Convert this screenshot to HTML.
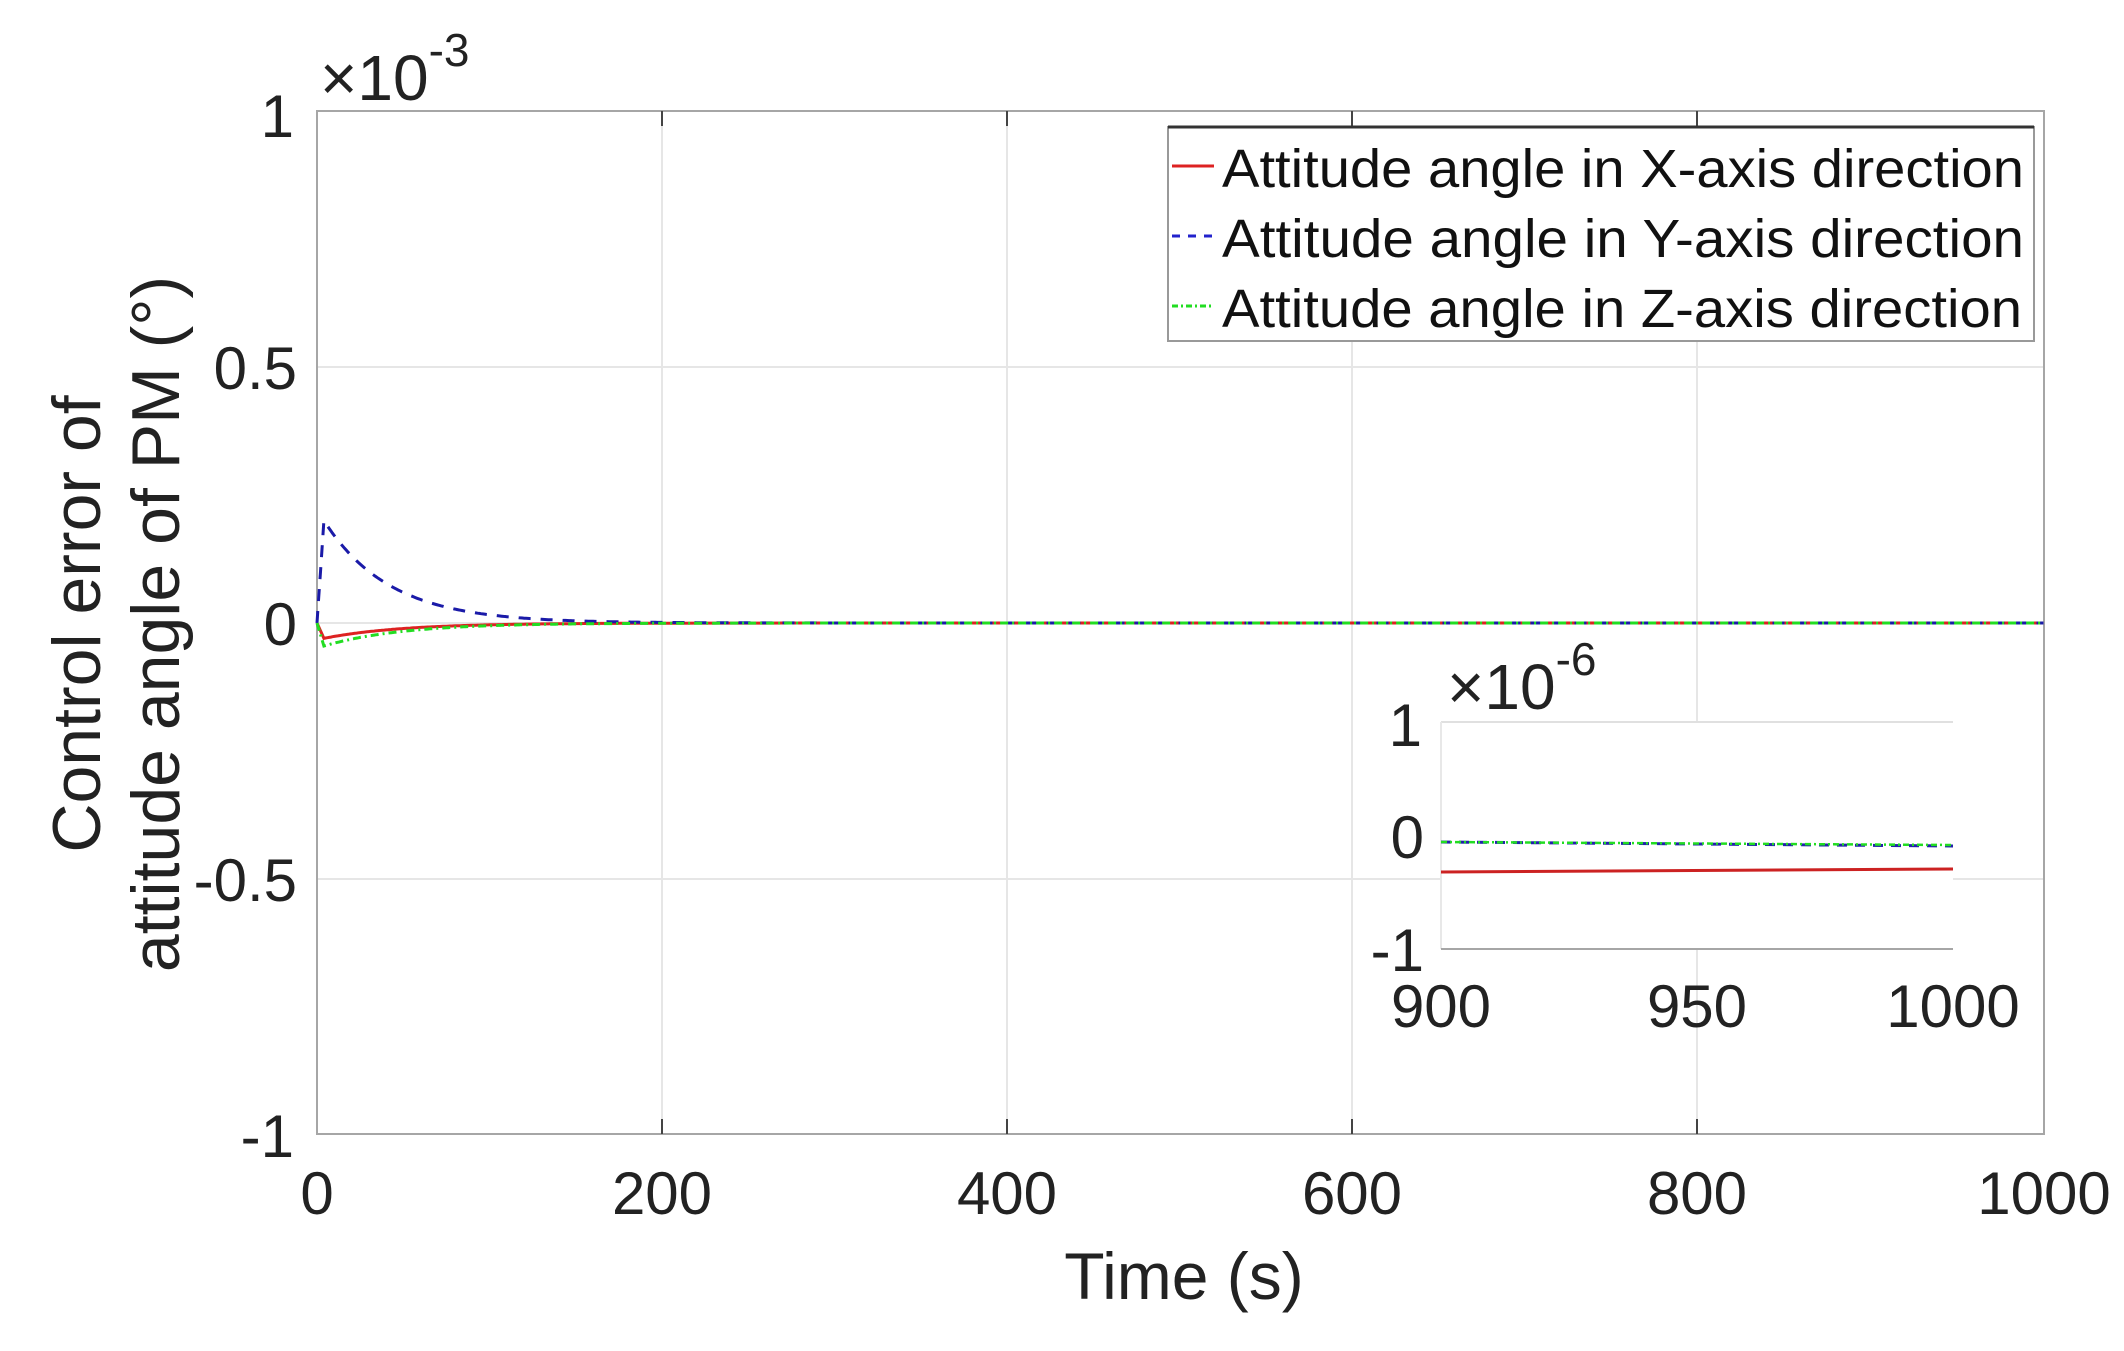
<!DOCTYPE html>
<html><head><meta charset="utf-8"><style>
html,body{margin:0;padding:0;background:#fff;}
svg{display:block;font-family:"Liberation Sans",Arial,sans-serif;}
</style></head><body>
<svg id="s" width="2124" height="1351" viewBox="0 0 2124 1351" xmlns="http://www.w3.org/2000/svg">
<rect width="2124" height="1351" fill="#fff"/>
<g stroke="#e6e6e6" stroke-width="2">
<line x1="662" y1="111" x2="662" y2="1134"/><line x1="1007" y1="111" x2="1007" y2="1134"/>
<line x1="1352" y1="111" x2="1352" y2="1134"/><line x1="1697" y1="111" x2="1697" y2="1134"/>
<line x1="317" y1="367" x2="2044" y2="367"/><line x1="317" y1="623" x2="2044" y2="623"/>
<line x1="317" y1="879" x2="2044" y2="879"/>
</g>
<rect x="317" y="111" width="1727" height="1023" fill="none" stroke="#a6a6a6" stroke-width="2"/>
<g stroke="#444" stroke-width="2">
<line x1="662" y1="111" x2="662" y2="126"/><line x1="662" y1="1134" x2="662" y2="1119"/>
<line x1="1007" y1="111" x2="1007" y2="126"/><line x1="1007" y1="1134" x2="1007" y2="1119"/>
<line x1="1352" y1="111" x2="1352" y2="126"/><line x1="1352" y1="1134" x2="1352" y2="1119"/>
<line x1="1697" y1="111" x2="1697" y2="126"/><line x1="1697" y1="1134" x2="1697" y2="1119"/>
</g>
<g id="curves"></g>
<g font-size="60" fill="#222" text-anchor="end">
<text x="294" y="137">1</text><text x="297" y="389">0.5</text><text x="297" y="645">0</text>
<text x="297" y="901">-0.5</text><text x="294" y="1157">-1</text>
</g>
<g font-size="60" fill="#222" text-anchor="middle">
<text x="317" y="1214">0</text><text x="662" y="1214">200</text><text x="1007" y="1214">400</text>
<text x="1352" y="1214">600</text><text x="1697" y="1214">800</text><text x="2044" y="1214">1000</text>
</g>
<text x="320" y="100" font-size="64" fill="#222">×10<tspan dy="-34" font-size="46">-3</tspan></text>
<text x="1184" y="1299" font-size="66" fill="#222" text-anchor="middle">Time (s)</text>
<g transform="translate(100,624) rotate(-90)"><text x="0" y="0" font-size="68" fill="#222" text-anchor="middle">Control error of</text></g>
<g transform="translate(179,624) rotate(-90)"><text x="0" y="0" font-size="68" fill="#222" text-anchor="middle">attitude angle of PM (°)</text></g>
<!-- legend -->
<rect x="1168" y="127" width="866" height="214" fill="#fff" stroke="#999" stroke-width="2"/>
<line x1="1168" y1="127" x2="2034" y2="127" stroke="#333" stroke-width="3"/>
<line x1="1172" y1="166" x2="1214" y2="166" stroke="#d22" stroke-width="3"/>
<line x1="1172" y1="236" x2="1214" y2="236" stroke="#22c" stroke-width="3" stroke-dasharray="8,8"/>
<line x1="1172" y1="306" x2="1214" y2="306" stroke="#2d2" stroke-width="3" stroke-dasharray="6,3,2,3"/>
<g font-size="54" fill="#111">
<text x="1222" y="187" textLength="802" lengthAdjust="spacingAndGlyphs">Attitude angle in X-axis direction</text>
<text x="1222" y="257" textLength="802" lengthAdjust="spacingAndGlyphs">Attitude angle in Y-axis direction</text>
<text x="1222" y="327" textLength="800" lengthAdjust="spacingAndGlyphs">Attitude angle in Z-axis direction</text>
</g>
<!-- inset -->
<rect x="1441" y="722" width="512" height="227" fill="#fff" stroke="none"/>
<line x1="1441" y1="722" x2="1953" y2="722" stroke="#e0e0e0" stroke-width="2"/>
<line x1="1441" y1="722" x2="1441" y2="949" stroke="#e8e8e8" stroke-width="2"/>
<line x1="1441" y1="949" x2="1953" y2="949" stroke="#a6a6a6" stroke-width="2"/>
<line x1="1441" y1="872" x2="1953" y2="869" stroke="#c22" stroke-width="3"/>
<line x1="1441" y1="842" x2="1953" y2="846" stroke="#22a" stroke-width="3" stroke-dasharray="10,8"/>
<line x1="1441" y1="842" x2="1953" y2="845" stroke="#2d2" stroke-width="2.5" stroke-dasharray="6,3,2,3"/>
<g font-size="60" fill="#222">
<text x="1422" y="746" text-anchor="end">1</text>
<text x="1424" y="858" text-anchor="end">0</text>
<text x="1424" y="971" text-anchor="end">-1</text>
<text x="1441" y="1027" text-anchor="middle">900</text>
<text x="1697" y="1027" text-anchor="middle">950</text>
<text x="1953" y="1027" text-anchor="middle">1000</text>
</g>
<text x="1447" y="709" font-size="64" fill="#222">×10<tspan dy="-34" font-size="46">-6</tspan></text>
</svg>
<script>
(function(){
var X=function(t){return 317+t*1.7265;},Y=function(v){return 623-v*512;};
function pts(f){var a=[];for(var t=0;t<=1000;t+=(t<200?1:10)){a.push(X(t).toFixed(1)+','+Y(f(t)).toFixed(1));}return a.join(' ');}
var blue=function(t){return t<4?0.2*t/4:0.2*Math.exp(-(t-4)/38);};
var red=function(t){return t<4?-0.03*t/4:-0.03*Math.exp(-(t-4)/45);};
var green=function(t){return t<4?-0.045*t/4:-0.045*Math.exp(-(t-4)/45);};
var g=document.getElementById('curves'),ns='http://www.w3.org/2000/svg';
[[red,'#d22','none',3],[blue,'#1a1aa8','12,10',3],[green,'#2d2','8,4,2,4',3]].forEach(function(s){
var p=document.createElementNS(ns,'polyline');p.setAttribute('points',pts(s[0]));p.setAttribute('fill','none');
p.setAttribute('stroke',s[1]);p.setAttribute('stroke-width',s[3]);if(s[2]!='none')p.setAttribute('stroke-dasharray',s[2]);g.appendChild(p);});
})();
</script>
</body></html>
